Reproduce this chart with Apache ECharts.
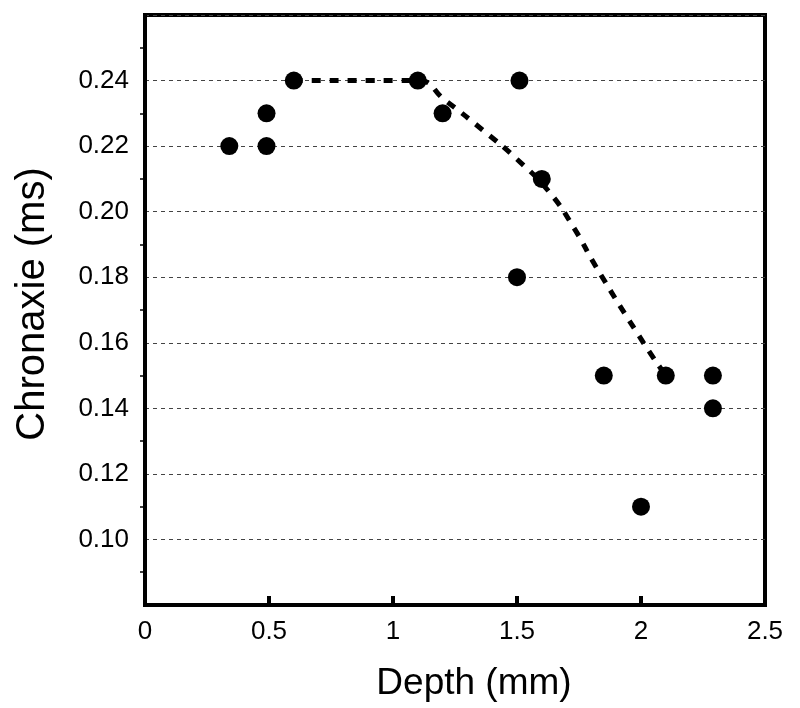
<!DOCTYPE html>
<html>
<head>
<meta charset="utf-8">
<script src="https://cdn.jsdelivr.net/npm/echarts@6/dist/echarts.min.js"></script>
<style>
  html, body { margin: 0; padding: 0; background: #fff; }
  #chart { width: 800px; height: 708px; }
</style>
</head>
<body>
<div id="chart"></div>
<script>
// measured points: depth (mm), chronaxie (ms)
var depth = [0.34, 0.49, 0.49, 0.6, 1.1, 1.2, 1.51, 1.5, 1.6, 1.85, 2.0, 2.1, 2.29, 2.29];
var chronaxie = [0.22, 0.23, 0.22, 0.24, 0.24, 0.23, 0.24, 0.18, 0.21, 0.15, 0.11, 0.15, 0.15, 0.14];

// dashed trend line
var trendX = [0.6, 1.1, 1.21, 1.36, 1.5, 1.63, 1.73, 1.82, 2.01, 2.1];
var trendY = [0.24, 0.24, 0.234, 0.225, 0.216, 0.206, 0.195, 0.183, 0.16, 0.15];

var xTicks = [0, 0.5, 1, 1.5, 2, 2.5];
var yTicks = [0.10, 0.12, 0.14, 0.16, 0.18, 0.20, 0.22, 0.24];

var pts = depth.map(function (d, i) { return [d, chronaxie[i]]; });
var trend = trendX.map(function (d, i) { return [d, trendY[i]]; });

var font = 'Liberation Sans, Arial, sans-serif';

var chart = echarts.init(document.getElementById('chart'));
chart.setOption({
  animation: false,
  grid: {
    show: true,
    left: 145,
    right: 35,
    top: 15,
    bottom: 103,
    borderColor: '#000',
    borderWidth: 4,
    backgroundColor: '#fff'
  },
  xAxis: {
    type: 'value',
    min: 0,
    max: 2.5,
    interval: 0.5,
    name: 'Depth (mm)',
    nameLocation: 'middle',
    nameGap: 60,
    nameTextStyle: { color: '#000', fontSize: 37, fontFamily: font, padding: [0, 0, 0, 38] },
    axisLine: { lineStyle: { color: '#000', width: 4 } },
    axisTick: { inside: true, length: 9, lineStyle: { color: '#000', width: 4 } },
    axisLabel: {
      color: '#000', fontSize: 26, fontFamily: font, margin: 14,
      formatter: function (v) {
        return xTicks.indexOf(v) >= 0 ? String(v) : '';
      }
    },
    splitLine: { show: false }
  },
  yAxis: {
    type: 'value',
    min: 0.08,
    max: 0.26,
    interval: 0.02,
    name: 'Chronaxie (ms)',
    nameLocation: 'middle',
    nameGap: 92,
    nameRotate: 90,
    nameTextStyle: { color: '#000', fontSize: 40, fontFamily: font, padding: [0, 0, 0, 12] },
    axisLine: { lineStyle: { color: '#000', width: 4 } },
    axisTick: { show: false },
    minorTick: { show: true, splitNumber: 2, length: 5, lineStyle: { color: '#000', width: 1.5 } },
    axisLabel: {
      color: '#000', fontSize: 26, fontFamily: font, margin: 16,
      formatter: function (v) {
        for (var i = 0; i < yTicks.length; i++) {
          if (Math.abs(yTicks[i] - v) < 1e-6) return yTicks[i].toFixed(2);
        }
        return '';
      }
    },
    splitLine: {
      show: true,
      lineStyle: { color: '#444', width: 1, type: [4, 4] }
    }
  },
  series: [
    {
      type: 'line',
      data: trend,
      smooth: true,
      symbol: 'none',
      lineStyle: { color: '#000', width: 5, type: [9, 9] },
      z: 2
    },
    {
      type: 'scatter',
      data: pts,
      symbol: 'circle',
      symbolSize: 18,
      itemStyle: { color: '#000', opacity: 1 },
      z: 3
    }
  ]
});
</script>
</body>
</html>
